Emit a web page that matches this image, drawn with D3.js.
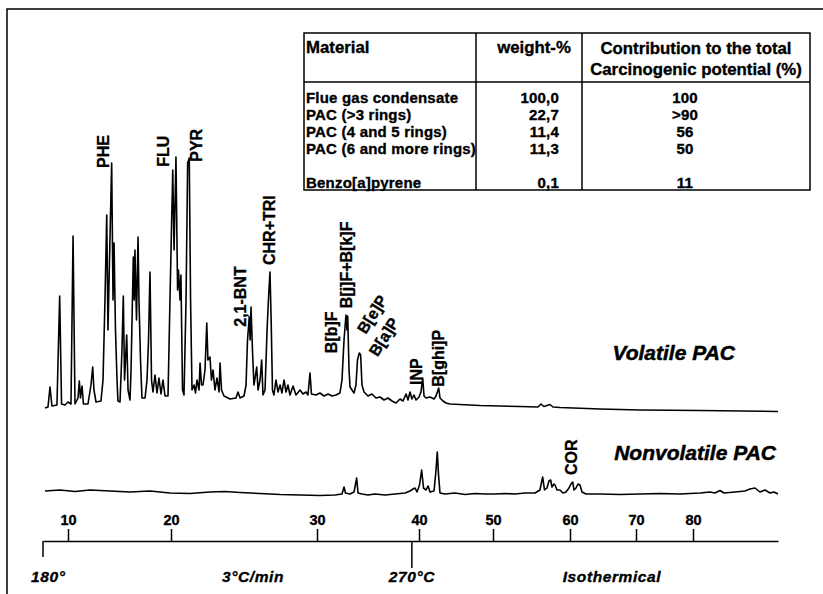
<!DOCTYPE html>
<head>
<meta charset="utf-8">
<script src="https://d3js.org/d3.v7.min.js"></script>
<style>
body { margin: 0; background: white; }
svg { display: block; font-family: "Liberation Sans", Arial, sans-serif; font-weight: bold; }
svg text { fill: black; stroke: black; stroke-width: 0.35px; }
.trace { fill: none; stroke: black; stroke-width: 1.6; stroke-linejoin: round; }
.frame, .grid-line { stroke: black; stroke-width: 1.5; fill: none; }
.axis path, .axis line { stroke: black; stroke-width: 1.5; }
.axis text { font-size: 14.5px; font-family: "Liberation Sans", Arial, sans-serif; font-weight: bold; }
.peak-label { font-size: 16px; }
.table-text { font-size: 15px; letter-spacing: 0.2px; }
.table-head { font-size: 16.8px; }
.temp-label { font-size: 15.5px; font-style: italic; letter-spacing: 0.6px; }
.trace-title { font-size: 21px; font-style: italic; stroke-width: 0.5px; }
</style>
</head>

<body>
<div id="chart"></div>
<script>

// retention time (min) vs detector signal (arb. units)
var volatileTrace = [
  [7.79,1.6],[8.08,2.0],[8.27,10.0],[8.46,2.4],[8.94,2.8],[9.20,46.4],[9.38,3.2],[9.71,2.8],
  [10.00,4.0],[10.29,3.2],[10.49,70.4],[10.68,3.2],[10.97,5.6],[11.10,12.4],[11.21,5.6],[11.36,10.4],
  [11.50,3.2],[11.94,3.2],[12.23,10.8],[12.40,18.0],[12.52,8.8],[12.72,4.0],[13.20,4.4],[13.40,12.8],
  [13.59,44.8],[13.76,78.8],[13.88,32.8],[14.03,60.8],[14.24,99.6],[14.37,44.8],[14.47,67.6],[14.61,32.8],
  [14.76,12.8],[14.85,4.4],[15.05,4.0],[15.24,24.8],[15.37,46.4],[15.49,12.8],[15.70,30.8],[15.83,8.8],
  [16.02,4.8],[16.12,16.8],[16.34,62.0],[16.43,44.8],[16.50,64.8],[16.65,36.8],[16.80,70.0],[16.89,44.8],
  [17.04,20.8],[17.18,5.6],[17.48,5.6],[17.67,12.8],[17.82,28.8],[17.96,56.0],[18.11,12.8],[18.25,8.0],
  [18.45,14.8],[18.64,7.6],[18.83,13.6],[19.03,7.2],[19.22,12.8],[19.42,6.4],[19.71,6.4],[19.90,44.8],
  [20.12,96.8],[20.21,64.8],[20.34,102.0],[20.45,48.8],[20.51,56.8],[20.62,44.8],[20.68,54.8],[20.79,8.8],
  [20.89,6.8],[21.03,44.8],[21.14,99.6],[21.25,101.6],[21.34,44.8],[21.44,8.8],[21.58,10.8],[21.68,7.6],
  [21.78,12.8],[21.92,8.8],[21.99,19.6],[22.09,10.8],[22.19,10.8],[22.33,16.8],[22.45,35.6],[22.53,20.8],
  [22.67,22.0],[22.77,12.8],[22.88,16.8],[23.01,8.8],[23.15,13.6],[23.29,8.0],[23.36,19.6],[23.46,8.8],
  [23.63,6.4],[24.04,5.2],[24.45,5.6],[24.59,8.0],[24.73,5.6],[25.00,6.4],[25.14,10.8],[25.24,28.8],
  [25.36,38.0],[25.42,28.8],[25.48,42.0],[25.58,24.8],[25.68,10.8],[25.79,14.8],[25.87,18.0],[25.96,8.8],
  [26.10,12.8],[26.21,20.8],[26.30,6.8],[26.44,8.8],[26.58,32.8],[26.69,46.8],[26.78,56.0],[26.86,36.8],
  [26.95,8.8],[27.05,6.8],[27.19,12.8],[27.33,8.0],[27.47,10.8],[27.60,7.6],[27.74,12.8],[27.88,8.0],
  [28.01,10.8],[28.15,6.8],[28.36,10.4],[28.56,6.8],[28.84,8.8],[29.04,7.2],[29.25,8.0],[29.38,6.8],
  [29.52,15.6],[29.62,7.2],[29.93,6.8],[30.29,7.6],[30.69,6.4],[31.08,7.2],[31.47,6.4],[31.86,6.8],
  [32.25,7.6],[32.45,12.8],[32.65,28.8],[32.84,38.8],[32.94,32.8],[33.01,38.4],[33.14,16.8],[33.24,10.0],
  [33.43,8.8],[33.63,7.6],[33.82,10.8],[33.97,20.8],[34.15,23.6],[34.28,22.8],[34.41,10.8],[34.61,8.0],
  [35.00,6.4],[35.39,7.2],[35.78,5.6],[36.18,6.0],[36.57,4.8],[36.96,5.6],[37.35,4.4],[37.75,3.6],
  [38.14,5.2],[38.43,4.4],[38.73,7.2],[38.92,4.8],[39.12,8.0],[39.31,5.2],[39.51,6.8],[39.71,4.8],
  [40.00,6.0],[40.27,8.0],[40.50,13.6],[40.68,6.4],[40.95,5.6],[41.49,6.0],[42.03,5.2],[42.30,6.4],
  [42.66,9.6],[42.84,5.6],[43.24,4.4],[43.65,3.6],[44.19,3.2],[45.54,3.0],[48.24,2.6],[50.91,2.4],
  [53.51,2.2],[55.84,2.0],[56.23,3.2],[56.62,2.2],[57.40,3.0],[57.79,2.0],[58.70,1.8],[64.55,1.2],
  [70.70,0.8],[81.24,0.6],[95.00,0.2]
];

var nonvolatileTrace = [
  [7.79,2.4],[9.23,2.8],[10.68,2.2],[12.14,2.8],[14.08,2.4],[16.02,2.0],[17.96,2.4],[19.90,1.6],
  [21.30,1.4],[22.67,2.0],[23.70,2.2],[24.73,1.8],[26.10,1.4],[27.47,1.0],[28.84,0.8],[30.29,0.6],
  [31.76,0.8],[32.45,1.2],[32.65,4.0],[32.79,1.6],[33.24,1.2],[33.63,2.0],[33.89,7.6],[34.02,1.6],
  [34.41,1.2],[35.00,0.8],[35.69,1.2],[36.67,0.8],[37.65,1.2],[38.63,1.6],[39.12,2.4],[39.41,3.2],
  [39.61,3.6],[39.80,2.0],[40.07,4.8],[40.36,10.8],[40.61,3.6],[40.95,2.8],[41.22,4.4],[41.49,2.0],
  [42.03,2.4],[42.30,10.8],[42.47,18.0],[42.64,8.8],[42.84,1.6],[43.51,1.2],[44.86,1.6],[46.22,1.0],
  [47.57,1.4],[48.92,1.2],[50.26,1.2],[51.56,1.4],[52.86,1.2],[54.16,1.6],[55.45,1.6],[56.10,2.8],
  [56.45,8.0],[56.69,2.8],[57.01,3.6],[57.27,6.4],[57.49,6.8],[57.66,4.0],[57.92,5.2],[58.05,4.8],
  [58.31,2.8],[58.70,2.8],[59.09,1.6],[59.48,2.0],[59.87,3.6],[60.15,5.2],[60.41,6.0],[60.61,2.8],
  [60.91,3.6],[61.21,5.2],[61.52,4.8],[61.82,2.0],[62.42,1.2],[64.55,1.2],[67.58,1.0],[70.70,1.2],
  [74.21,1.4],[77.72,1.2],[81.24,1.6],[83.00,2.0],[83.88,1.6],[84.76,2.6],[85.47,1.6],[87.41,2.0],
  [89.18,2.4],[90.06,3.2],[90.94,3.6],[91.82,2.0],[92.71,2.8],[93.59,1.6],[94.29,2.0],[95.00,1.2]
];

// compound name, retention time, signal level where the label starts, angle
var volatileLabels = [
  ["PHE", 13.43, 97.6, -90],
  ["FLU", 19.25, 98.1, -90],
  ["PYR", 21.76, 100.1, -90],
  ["2,1-BNT", 24.73, 34.1, -90],
  ["CHR+TRI", 26.73, 58.8, -90],
  ["B[b]F", 31.44, 23.5, -90],
  ["B[j]F+B[k]F", 32.91, 41.5, -90],
  ["B[e]P", 34.30, 32.0, -58],
  ["B[a]P", 35.45, 23.0, -58],
  ["INP", 39.77, 10.8, -90],
  ["B[ghi]P", 42.61, 10.1, -90]
];
var nonvolatileLabels = [
  ["COR", 60.26, 8.8, -90]
];

var minuteTicks = [10, 20, 30, 40, 50, 60, 70, 80];
var axisBreaks = [7.6, 10, 20, 30, 40, 50, 60, 70, 80, 95];   // the printed time axis is not linear
var tempMarks = [[7.6, "180°"], [39.3, "270°C"]];
var programLabels = [[25.62, "3°C/min"], [66.36, "Isothermical"]];

var materials = ["Flue gas condensate", "PAC (>3 rings)", "PAC (4 and 5 rings)", "PAC (6 and more rings)", "", "Benzo[a]pyrene"];
var weights = ["100,0", "22,7", "11,4", "11,3", "", "0,1"];
var contributions = ["100", ">90", "56", "50", "", "11"];

var width = 823, height = 594;

var svg = d3.select("#chart")
    .append("svg")
    .attr("width", width)
    .attr("height", height);

svg.append("rect").attr("width", width).attr("height", height).attr("fill", "white");

// scan frame
svg.append("path")
    .attr("class", "frame")
    .attr("d", "M7,594V9H823");

var x = d3.scaleLinear()
    .domain(axisBreaks)
    .range([43, 68, 171, 317, 419, 493, 570, 636, 693, 778]);

var yVol = d3.scaleLinear().domain([0, 100]).range([412, 162]);
var yNon = d3.scaleLinear().domain([0, 100]).range([497, 247]);

var lineVol = d3.line().x(function(d) { return x(d[0]); }).y(function(d) { return yVol(d[1]); });
var lineNon = d3.line().x(function(d) { return x(d[0]); }).y(function(d) { return yNon(d[1]); });

svg.append("path").datum(volatileTrace).attr("class", "trace").attr("d", lineVol);
svg.append("path").datum(nonvolatileTrace).attr("class", "trace").attr("d", lineNon);

function addLabels(list, yScale) {
  svg.selectAll(null)
    .data(list)
    .enter()
    .append("text")
      .attr("class", "peak-label")
      .attr("transform", function(d) { return "translate(" + x(d[1]) + "," + yScale(d[2]) + ") rotate(" + d[3] + ")"; })
      .attr("dy", "0.36em")
      .text(function(d) { return d[0]; });
}
addLabels(volatileLabels, yVol);
addLabels(nonvolatileLabels, yNon);

svg.append("text").attr("class", "trace-title")
    .attr("x", 735).attr("y", yVol(21)).attr("text-anchor", "end")
    .text("Volatile PAC");
svg.append("text").attr("class", "trace-title")
    .attr("x", 776).attr("y", yNon(15)).attr("text-anchor", "end")
    .text("Nonvolatile PAC");

// time axis
var axisY = 541;
svg.append("g")
    .attr("class", "axis")
    .attr("transform", "translate(0," + axisY + ")")
    .call(d3.axisTop(x).tickValues(minuteTicks).tickSize(12).tickSizeOuter(0).tickPadding(4));

svg.selectAll(null)
    .data(tempMarks)
    .enter()
    .append("line")
      .attr("class", "grid-line")
      .attr("x1", function(d) { return x(d[0]); })
      .attr("x2", function(d) { return x(d[0]); })
      .attr("y1", axisY)
      .attr("y2", function(d, i) { return axisY + (i == 0 ? 16 : 27); });

svg.selectAll(null)
    .data(tempMarks)
    .enter()
    .append("text")
      .attr("class", "temp-label")
      .attr("x", function(d, i) { return x(d[0]) - (i == 0 ? 12 : 0); })
      .attr("y", 582)
      .attr("text-anchor", function(d, i) { return i == 0 ? "start" : "middle"; })
      .text(function(d) { return d[1]; });

svg.selectAll(null)
    .data(programLabels)
    .enter()
    .append("text")
      .attr("class", "temp-label")
      .attr("x", function(d) { return x(d[0]); })
      .attr("y", 582)
      .attr("text-anchor", "middle")
      .text(function(d) { return d[1]; });

// inset table
var tbl = svg.append("g");
var tLeft = 304, tRight = 810, tTop = 33, tHead = 82, tBottom = 190, col1 = 476, col2 = 582;
tbl.append("rect")
    .attr("x", tLeft).attr("y", tTop)
    .attr("width", tRight - tLeft).attr("height", tBottom - tTop)
    .attr("fill", "white").attr("class", "grid-line");
tbl.append("path").attr("class", "grid-line")
    .attr("d", "M" + tLeft + "," + tHead + "H" + tRight +
               "M" + col1 + "," + tTop + "V" + tBottom +
               "M" + col2 + "," + tTop + "V" + tBottom);

tbl.append("text").attr("class", "table-head").attr("x", tLeft + 2).attr("y", 53).text("Material");
tbl.append("text").attr("class", "table-head").attr("x", 534).attr("y", 53).attr("text-anchor", "middle").text("weight-%");
tbl.append("text").attr("class", "table-head").attr("x", 696).attr("y", 54).attr("text-anchor", "middle").text("Contribution to the total");
tbl.append("text").attr("class", "table-head").attr("x", 696).attr("y", 75).attr("text-anchor", "middle").text("Carcinogenic potential (%)");

var row = d3.scalePoint().domain(d3.range(materials.length)).range([98, 183]);

tbl.selectAll(null).data(materials).enter().append("text")
    .attr("class", "table-text")
    .attr("x", tLeft + 2)
    .attr("y", function(d, i) { return row(i); })
    .attr("dy", "0.36em")
    .text(function(d) { return d; });

tbl.selectAll(null).data(weights).enter().append("text")
    .attr("class", "table-text")
    .attr("x", 559)
    .attr("y", function(d, i) { return row(i); })
    .attr("dy", "0.36em")
    .attr("text-anchor", "end")
    .text(function(d) { return d; });

tbl.selectAll(null).data(contributions).enter().append("text")
    .attr("class", "table-text")
    .attr("x", 685)
    .attr("y", function(d, i) { return row(i); })
    .attr("dy", "0.36em")
    .attr("text-anchor", "middle")
    .text(function(d) { return d; });

</script>
</body>
